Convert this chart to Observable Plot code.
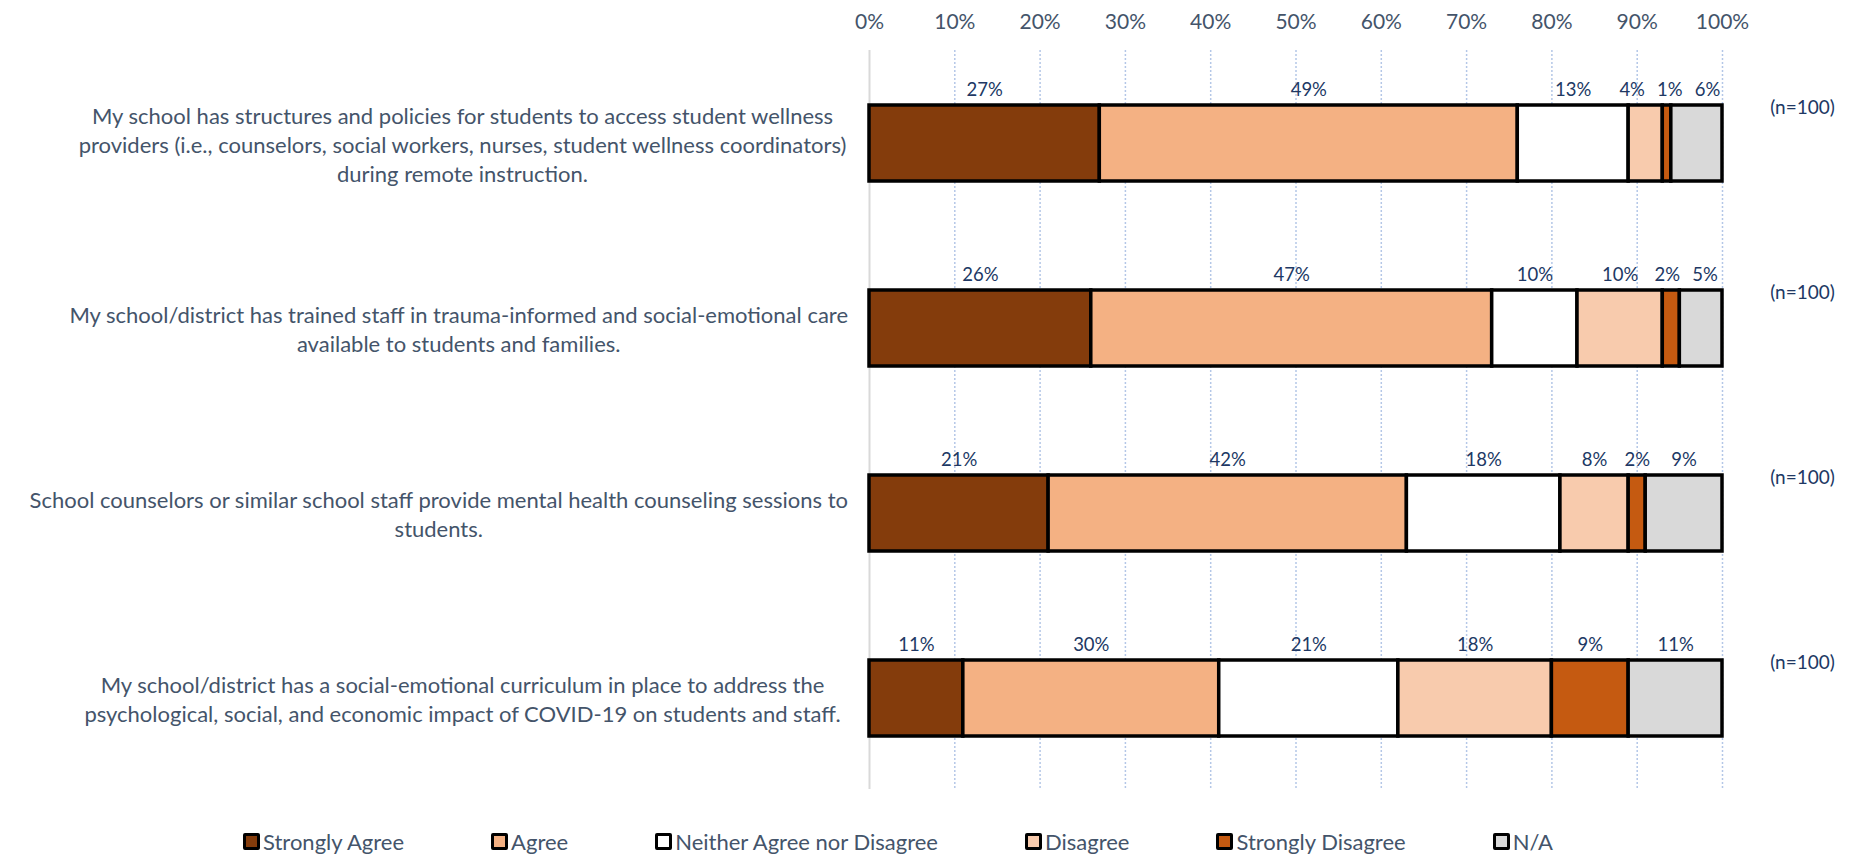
<!DOCTYPE html>
<html><head><meta charset="utf-8">
<script src="https://cdn.jsdelivr.net/npm/d3@7"></script>
<script src="https://cdn.jsdelivr.net/npm/@observablehq/plot@0.6"></script>
<style>
html,body{margin:0;padding:0;background:#fff;overflow:hidden;font-family:Lato,"Open Sans",sans-serif;}
#legend{height:32px;padding-top:10px;display:flex;gap:87px;padding-left:243px;align-items:center;font-size:22px;color:#44546a;}
.item{display:flex;align-items:center;gap:3px;white-space:nowrap;}
.sw{width:11px;height:11px;border:3px solid #000;border-radius:2px;}
</style></head><body><div id="chart"></div><div id="legend"></div>
<script>
const categories = [
  "My school has structures and policies for students to access student wellness\nproviders (i.e., counselors, social workers, nurses, student wellness coordinators)\nduring remote instruction.",
  "My school/district has trained staff in trauma-informed and social-emotional care\navailable to students and families.",
  "School counselors or similar school staff provide mental health counseling sessions to\nstudents.",
  "My school/district has a social-emotional curriculum in place to address the\npsychological, social, and economic impact of COVID-19 on students and staff."
];
const responses = ["Strongly Agree", "Agree", "Neither Agree nor Disagree", "Disagree", "Strongly Disagree", "N/A"];
const colors = ["#843c0c", "#f4b183", "#ffffff", "#f8cbad", "#c55a11", "#d9d9d9"];
const stronglyAgree    = [27, 26, 21, 11];
const agree            = [49, 47, 42, 30];
const neither          = [13, 10, 18, 21];
const disagree         = [4, 10, 8, 18];
const stronglyDisagree = [1, 2, 2, 9];
const notApplicable    = [6, 5, 9, 11];
const nLabels = ["(n=100)", "(n=100)", "(n=100)", "(n=100)"];
const xTicks = [0, 10, 20, 30, 40, 50, 60, 70, 80, 90, 100];

const series = [stronglyAgree, agree, neither, disagree, stronglyDisagree, notApplicable];
const rows = [];
categories.forEach((cat, i) => {
  let acc = 0;
  series.forEach((vals, j) => {
    const v = vals[i];
    rows.push({cat, resp: responses[j], value: v, x1: acc, x2: acc + v});
    acc += v;
  });
});

const W = 1860, H = 815;
const chart = Plot.plot({
  width: W, height: H,
  marginLeft: 869, marginRight: 138, marginTop: 50, marginBottom: 26,
  style: {fontFamily: "Lato, 'Open Sans', sans-serif", background: "#fff"},
  x: {domain: [0, 100], axis: null},
  y: {domain: categories, range: [50, 790], paddingInner: 0.59, paddingOuter: 0.295, axis: null},
  color: {domain: responses, range: colors},
  marks: [
    Plot.ruleX(xTicks.filter(d => d > 0), {stroke: "#b4c7e7", strokeWidth: 1.5, strokeDasharray: "2,2"}),
    Plot.ruleX([0], {stroke: "#d9d9d9", strokeWidth: 2}),
    Plot.axisX({anchor: "top", ticks: xTicks, tickFormat: d => d + "%", tickSize: 0, tickPadding: 22, fontSize: 21, color: "#44546a"}),
    Plot.barX(rows, {x1: "x1", x2: "x2", y: "cat", fill: "resp", stroke: "#000", strokeWidth: 3.5}),
    Plot.text(rows, {x: d => (d.x1 + d.x2) / 2, y: "cat", text: d => d.value + "%", dy: -53, fontSize: 18.5, fill: "#203864", className: "vallabel"}),
    Plot.text(categories, {x: () => 100, y: d => d, text: (d, i) => nLabels[i], dx: 80, dy: -36, fontSize: 19, fill: "#203864"}),
    Plot.text(categories, {frameAnchor: "left", y: d => d, text: d => d, dx: -407, textAnchor: "middle", lineHeight: 1.32, fontSize: 22, fill: "#44546a", className: "catlabel"})
  ]
});
document.getElementById("chart").appendChild(chart);

const shiftX = (el, dx) => el.setAttribute("transform", (el.getAttribute("transform") || "") + ` translate(${dx},0)`);

// keep each category label block left of the axis (like the original layout)
const svgLeft = chart.getBoundingClientRect().left;
chart.querySelectorAll("g.catlabel text").forEach(t => {
  const r = t.getBoundingClientRect();
  const right = r.right - svgLeft, limit = 848;
  if (right > limit) shiftX(t, limit - right);
});

// spread crowded value labels apart within each bar
const vals = Array.from(chart.querySelectorAll("g.vallabel text"));
const per = responses.length;
for (let i = 0; i < categories.length; i++) {
  const els = vals.slice(i * per, i * per + per);
  const rects = els.map(e => e.getBoundingClientRect());
  const c0 = rects.map(r => r.left + r.width / 2);
  const w = rects.map(r => r.width);
  const c = c0.slice();
  const pad = 12;
  for (let it = 0; it < 100; it++) {
    for (let k = 1; k < c.length; k++) {
      const need = (w[k - 1] + w[k]) / 2 + pad, gap = c[k] - c[k - 1];
      if (gap < need) { const d = (need - gap) / 2; c[k - 1] -= d; c[k] += d; }
    }
  }
  els.forEach((e, k) => { if (Math.abs(c[k] - c0[k]) > 0.1) shiftX(e, c[k] - c0[k]); });
}

const legend = document.getElementById("legend");
responses.forEach((r, j) => {
  const it = document.createElement("div");
  it.className = "item";
  const sw = document.createElement("div");
  sw.className = "sw";
  sw.style.background = colors[j];
  const tx = document.createElement("span");
  tx.textContent = r;
  it.appendChild(sw); it.appendChild(tx);
  legend.appendChild(it);
});
</script></body></html>
